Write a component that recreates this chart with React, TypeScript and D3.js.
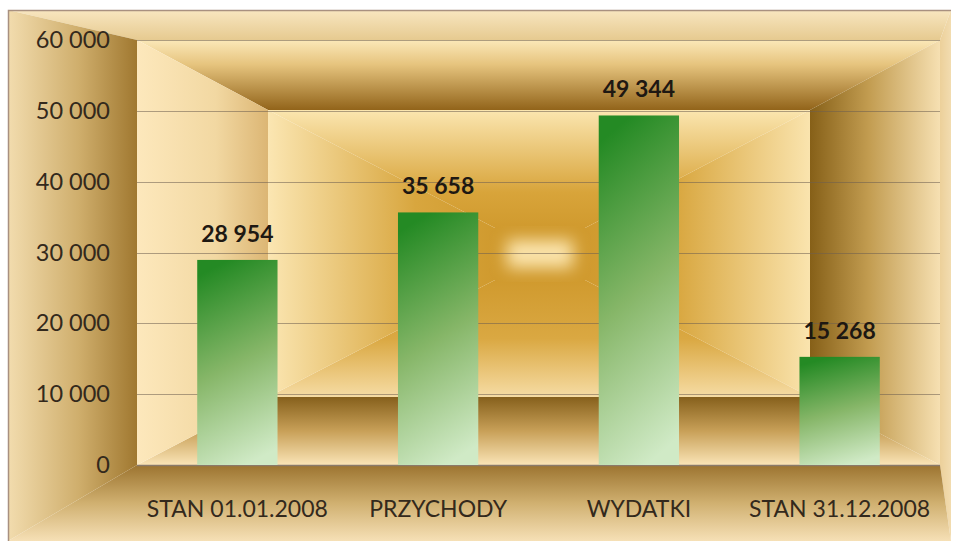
import React, { useEffect, useRef } from "react";
import * as d3 from "d3";

// chart data
const categories = ["STAN 01.01.2008", "PRZYCHODY", "WYDATKI", "STAN 31.12.2008"];
const values = [28954, 35658, 49344, 15268];
const yTicks = [0, 10000, 20000, 30000, 40000, 50000, 60000];

const W = 955;
const H = 544;

// frame + plot geometry
const frame = { x0: 8, y0: 10, x1: 951, y1: 541 };
const plot = { x0: 137, y0: 40, x1: 940, y1: 465 };
const inner = { x0: 268, y0: 110, x1: 810, y1: 397 };
const glow = { x0: 495, y0: 228, x1: 585, y1: 280 };

const FONT = "Lato, 'Open Sans', sans-serif";

// polish style: 28 954
const fmt = d3.formatLocale({ decimal: ",", thousands: " ", grouping: [3], currency: ["", " zł"] }).format(",d");

type Rect = { x0: number; y0: number; x1: number; y1: number };

// four trapezoids between an outer and an inner rect
function bevel(o: Rect, i: Rect) {
  return {
    top: [[o.x0, o.y0], [o.x1, o.y0], [i.x1, i.y0], [i.x0, i.y0]],
    right: [[o.x1, o.y0], [o.x1, o.y1], [i.x1, i.y1], [i.x1, i.y0]],
    bottom: [[o.x0, o.y1], [o.x1, o.y1], [i.x1, i.y1], [i.x0, i.y1]],
    left: [[o.x0, o.y0], [i.x0, i.y0], [i.x0, i.y1], [o.x0, o.y1]],
  };
}

export default function App() {
  const svgRef = useRef<SVGSVGElement>(null);

  useEffect(() => {
    const svg = d3.select(svgRef.current);
    svg.selectAll("*").remove();

    const defs = svg.append("defs");

    // helper for linear gradients in user space
    const grad = (id: string, x1: number, y1: number, x2: number, y2: number, stops: [number, string][]) => {
      const g = defs.append("linearGradient")
        .attr("id", id)
        .attr("gradientUnits", "userSpaceOnUse")
        .attr("x1", x1).attr("y1", y1).attr("x2", x2).attr("y2", y2);
      stops.forEach(([o, c]) => g.append("stop").attr("offset", o).attr("stop-color", c));
    };

    // outer frame
    grad("fTop", 0, frame.y0, 0, plot.y0, [[0, "#f8e6c0"], [1, "#e6ca90"]]);
    grad("fLeft", frame.x0, 0, plot.x0, 0, [[0, "#f2dcae"], [0.55, "#cfae6c"], [1, "#a07830"]]);
    grad("fBottom", 0, plot.y1, 0, frame.y1, [[0, "#9c7430"], [0.5, "#d0b070"], [1, "#f6e0b6"]]);
    grad("fRight", plot.x1, 0, frame.x1, 0, [[0, "#ecd09a"], [1, "#f2dcb0"]]);

    // plot tunnel
    grad("pTop", 0, plot.y0, 0, inner.y0, [[0, "#fbe8b8"], [0.35, "#e6c47e"], [1, "#92641a"]]);
    grad("pLeft", plot.x0, 0, inner.x0, 0, [[0, "#fde8bc"], [0.6, "#f2d8a2"], [1, "#dcb674"]]);
    grad("pRight", inner.x1, 0, plot.x1, 0, [[0, "#866018"], [0.45, "#c29c50"], [1, "#f6e0b2"]]);
    grad("pBottom", 0, inner.y1, 0, plot.y1, [[0, "#86601c"], [0.5, "#c8a058"], [1, "#fae4b6"]]);

    // inner box
    grad("iTop", 0, inner.y0, 0, glow.y0, [[0, "#fbe6b0"], [0.7, "#d8a43a"], [1, "#d09a2e"]]);
    grad("iLeft", inner.x0, 0, glow.x0, 0, [[0, "#fbe6b2"], [0.65, "#d8a63e"], [1, "#d09a2e"]]);
    grad("iRight", glow.x1, 0, inner.x1, 0, [[0, "#d09a2e"], [0.4, "#d8a63e"], [1, "#fae4ae"]]);
    grad("iBottom", 0, glow.y1, 0, inner.y1, [[0, "#d09a2e"], [0.5, "#daa842"], [1, "#f6dca4"]]);

    // bars
    const bg = defs.append("linearGradient")
      .attr("id", "barGrad")
      .attr("x1", 0.4).attr("y1", 0).attr("x2", 0.6).attr("y2", 1);
    bg.append("stop").attr("offset", 0).attr("stop-color", "#248a24");
    bg.append("stop").attr("offset", 0.5).attr("stop-color", "#86b668");
    bg.append("stop").attr("offset", 1).attr("stop-color", "#d0eac6");

    const blur = defs.append("filter").attr("id", "blur")
      .attr("x", "-50%").attr("y", "-50%").attr("width", "200%").attr("height", "200%");
    blur.append("feGaussianBlur").attr("stdDeviation", 8);

    const line = (pts: number[][]) => "M" + pts.map(p => p.join(",")).join("L") + "Z";

    // frame
    const fb = bevel(frame, plot);
    svg.append("path").attr("d", line(fb.top)).attr("fill", "url(#fTop)");
    svg.append("path").attr("d", line(fb.right)).attr("fill", "url(#fRight)");
    svg.append("path").attr("d", line(fb.bottom)).attr("fill", "url(#fBottom)");
    svg.append("path").attr("d", line(fb.left)).attr("fill", "url(#fLeft)");

    // plot area tunnel
    const pb = bevel(plot, inner);
    svg.append("path").attr("d", line(pb.top)).attr("fill", "url(#pTop)");
    svg.append("path").attr("d", line(pb.right)).attr("fill", "url(#pRight)");
    svg.append("path").attr("d", line(pb.bottom)).attr("fill", "url(#pBottom)");
    svg.append("path").attr("d", line(pb.left)).attr("fill", "url(#pLeft)");

    const ib = bevel(inner, glow);
    svg.append("path").attr("d", line(ib.top)).attr("fill", "url(#iTop)");
    svg.append("path").attr("d", line(ib.right)).attr("fill", "url(#iRight)");
    svg.append("path").attr("d", line(ib.bottom)).attr("fill", "url(#iBottom)");
    svg.append("path").attr("d", line(ib.left)).attr("fill", "url(#iLeft)");
    svg.append("rect")
      .attr("x", glow.x0).attr("y", glow.y0)
      .attr("width", glow.x1 - glow.x0).attr("height", glow.y1 - glow.y0)
      .attr("fill", "#d09a2e");
    svg.append("rect")
      .attr("x", glow.x0 + 12).attr("y", glow.y0 + 12)
      .attr("width", glow.x1 - glow.x0 - 24).attr("height", glow.y1 - glow.y0 - 24)
      .attr("fill", "#fbe4ac").attr("filter", "url(#blur)");

    // chart border
    svg.append("path")
      .attr("d", `M${frame.x0 + 0.5},${frame.y1}V${frame.y0 + 0.5}H${frame.x1}`)
      .attr("fill", "none").attr("stroke", "#a89080").attr("stroke-width", 1.5);

    // scales
    const x = d3.scaleBand()
      .domain(categories)
      .range([plot.x0, plot.x1])
      .paddingInner(0.6)
      .paddingOuter(0.3);

    const y = d3.scaleLinear()
      .domain([0, 60000])
      .range([plot.y1, plot.y0]);

    // gridlines
    svg.append("g")
      .selectAll("line")
      .data(yTicks.filter(d => d > 0))
      .enter().append("line")
      .attr("x1", plot.x0).attr("x2", plot.x1)
      .attr("y1", d => Math.round(y(d)) + 0.5).attr("y2", d => Math.round(y(d)) + 0.5)
      .attr("stroke", "#6e5e50").attr("stroke-opacity", 0.55).attr("stroke-width", 1.2);

    svg.append("line")
      .attr("x1", plot.x0).attr("x2", plot.x1)
      .attr("y1", plot.y1 + 0.5).attr("y2", plot.y1 + 0.5)
      .attr("stroke", "#8a7a6a").attr("stroke-width", 1.5);

    // y axis labels
    const yAxis = svg.append("g")
      .attr("transform", "translate(110,0)")
      .call(d3.axisLeft(y).tickValues(yTicks).tickSize(0).tickPadding(0).tickFormat(d => fmt(+d)));
    yAxis.select(".domain").remove();
    yAxis.selectAll("text")
      .attr("font-family", FONT).attr("font-size", 23.5).attr("fill", "#33291c");

    // bars
    svg.append("g")
      .selectAll("rect")
      .data(values)
      .enter().append("rect")
      .attr("x", (d, i) => x(categories[i])!)
      .attr("width", x.bandwidth())
      .attr("y", d => y(d))
      .attr("height", d => y(0) - y(d))
      .attr("fill", "url(#barGrad)");

    // value labels
    svg.append("g")
      .selectAll("text")
      .data(values)
      .enter().append("text")
      .attr("x", (d, i) => x(categories[i])! + x.bandwidth() / 2)
      .attr("y", d => y(d) - 18)
      .attr("text-anchor", "middle")
      .attr("font-family", FONT).attr("font-weight", "bold").attr("font-size", 23)
      .attr("fill", "#1e1812")
      .text(d => fmt(d));

    // category labels
    svg.append("g")
      .selectAll("text")
      .data(categories)
      .enter().append("text")
      .attr("x", d => x(d)! + x.bandwidth() / 2)
      .attr("y", 517)
      .attr("text-anchor", "middle")
      .attr("font-family", FONT).attr("font-size", 23)
      .attr("fill", "#33291c")
      .text(d => d);
  }, []);

  return (
    <svg ref={svgRef} width={W} height={H}
      style={{ position: "absolute", left: 0, top: 0, background: "#fff" }} />
  );
}
